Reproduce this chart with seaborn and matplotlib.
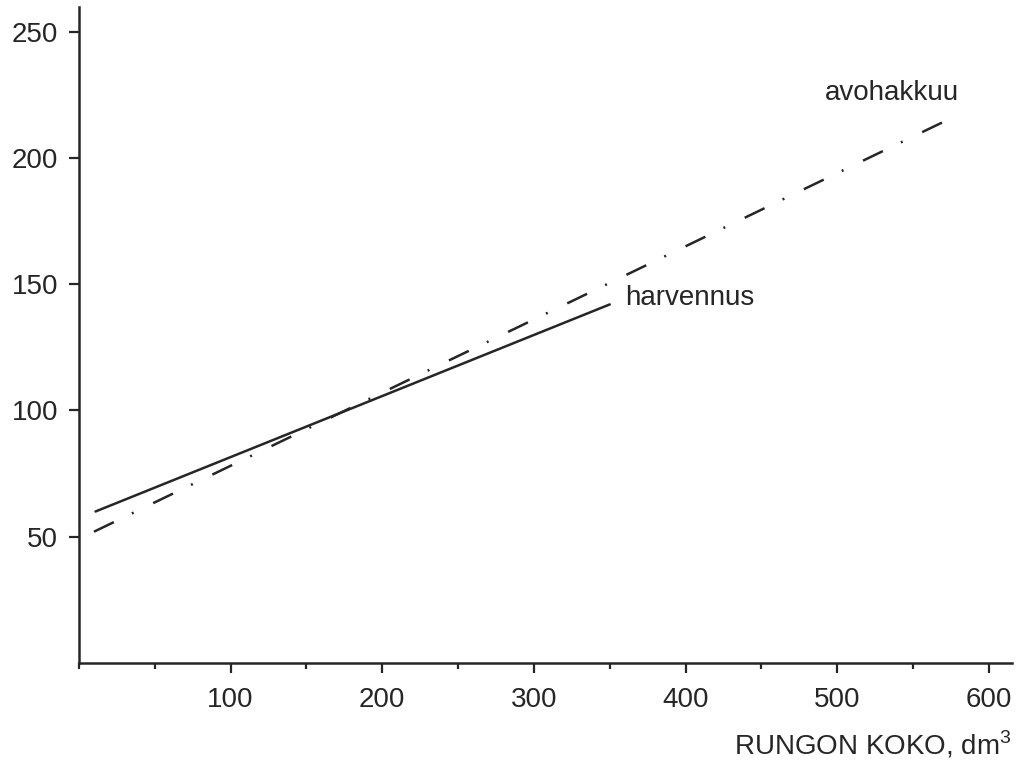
import matplotlib
matplotlib.use("Agg")
import matplotlib.pyplot as plt
import seaborn as sns
from matplotlib.ticker import MultipleLocator

# values
harvennus_x = [11, 350]
harvennus_y = [60, 142]
avohakkuu_x = [10, 569]
avohakkuu_y = [52, 214]

x_ticks = [100, 200, 300, 400, 500, 600]
y_ticks = [50, 100, 150, 200, 250]

sns.set_style("ticks")
plt.rcParams['font.family'] = ['Liberation Sans', 'DejaVu Sans']
plt.rcParams['mathtext.fontset'] = 'custom'
plt.rcParams['mathtext.rm'] = 'Liberation Sans'
plt.rcParams['lines.scale_dashes'] = False

ink = '#262626'
fs = 20
fig = plt.figure(figsize=(10.24, 7.67), dpi=100)
ax = fig.add_axes([0.077, 0.1356, 0.911, 0.855])

sns.lineplot(x=harvennus_x, y=harvennus_y, ax=ax, color=ink, linewidth=1.8)
sns.lineplot(x=avohakkuu_x, y=avohakkuu_y, ax=ax, color=ink, linewidth=1.8)
ax.lines[-1].set_dashes([15.84, 14.4, 1.44, 15.61])

ax.text(360, 144.5, 'harvennus', fontsize=fs, color=ink, va='center', ha='left')
ax.text(492, 225.6, 'avohakkuu', fontsize=fs, color=ink, va='center', ha='left')

ax.set_xlim(0, 615)
ax.set_ylim(0, 259.7)
ax.set_xticks(x_ticks)
ax.set_yticks(y_ticks)
ax.xaxis.set_minor_locator(MultipleLocator(50))
ax.tick_params(axis='both', which='major', length=7, width=1.6, color=ink,
               labelsize=fs, labelcolor=ink, pad=8)
ax.tick_params(axis='x', which='minor', length=4, width=1.6, color=ink)
ax.tick_params(axis='x', which='major', pad=10)

for side in ['top', 'right']:
    ax.spines[side].set_visible(False)
for side in ['left', 'bottom']:
    ax.spines[side].set_linewidth(1.8)
    ax.spines[side].set_color(ink)

ax.set_xlabel('RUNGON KOKO, dm$^3$', fontsize=fs, color=ink, loc='right', labelpad=12)
ax.set_ylabel('')

fig.savefig('out.png', dpi=100, facecolor='white')
